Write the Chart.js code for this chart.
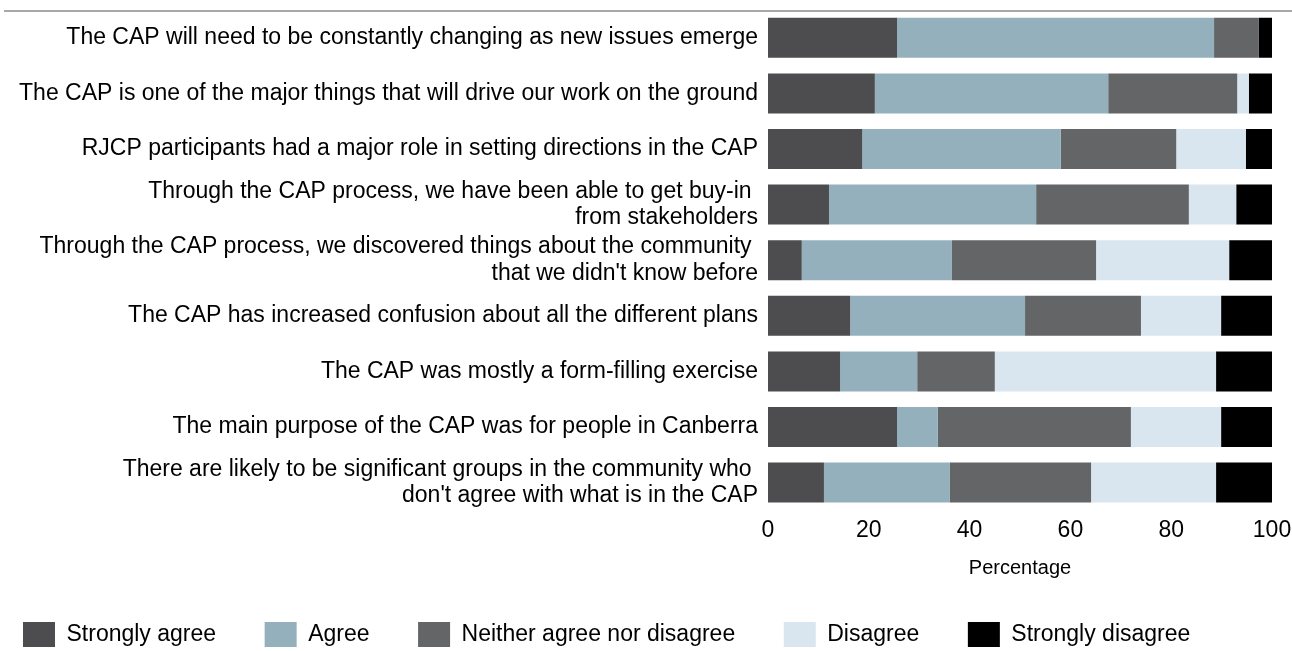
<!DOCTYPE html>
<html>
<head>
<meta charset="utf-8">
<script src="https://cdn.jsdelivr.net/npm/chart.js@4.4.0/dist/chart.umd.min.js"></script>
<style>
  body { margin: 0; background: #fff; }
  #caja { position: relative; width: 1292px; height: 651px; }
  #linea { position: absolute; top: 10px; left: 4px; right: 0; height: 2px; background: #a8a8a8; }
</style>
</head>
<body>
<div id="caja">
  <div id="linea"></div>
  <canvas id="grafico"></canvas>
</div>
<script>
/* preguntas (una por barra) */
const preguntas = [
    'The CAP will need to be constantly changing as new issues emerge',
    'The CAP is one of the major things that will drive our work on the ground',
    'RJCP participants had a major role in setting directions in the CAP',
    ['Through the CAP process, we have been able to get buy-in ', 'from stakeholders'],
    ['Through the CAP process, we discovered things about the community ', 'that we didn\'t know before'],
    'The CAP has increased confusion about all the different plans',
    'The CAP was mostly a form-filling exercise',
    'The main purpose of the CAP was for people in Canberra',
    ['There are likely to be significant groups in the community who ', 'don\'t agree with what is in the CAP']
]

const series = ['Strongly agree', 'Agree', 'Neither agree nor disagree', 'Disagree', 'Strongly disagree']

/* porcentajes de cada respuesta */
const muyDeAcuerdo = [25.6, 21.2, 18.7, 12.1, 6.7, 16.3, 14.3, 25.6, 11.1]
const deAcuerdo = [62.9, 46.3, 39.4, 41.1, 29.8, 34.7, 15.3, 8.1, 25.0]
const neutral = [8.9, 25.6, 22.9, 30.3, 28.6, 23.0, 15.4, 38.3, 28.0]
const enDesacuerdo = [0, 2.3, 13.8, 9.4, 26.4, 15.9, 43.9, 17.9, 24.8]
const muyEnDesacuerdo = [2.6, 4.6, 5.2, 7.1, 8.5, 10.1, 11.1, 10.1, 11.1]

const ticksX = [0, 20, 40, 60, 80, 100]

const colores = ['#4d4d4f', '#94b0bd', '#646567', '#d9e6ef', '#000000']

function graficoBarras(){

    const ctx = document.getElementById('grafico')
    const valores = [muyDeAcuerdo, deAcuerdo, neutral, enDesacuerdo, muyEnDesacuerdo]

    Chart.defaults.font.family = '"Liberation Sans", Arial, sans-serif'
    Chart.defaults.color = '#000'

    new Chart(ctx, {
        type: 'bar',
        data: {
            labels: preguntas,
            datasets: series.map((nombre, i) => ({
                label: nombre,
                data: valores[i],
                backgroundColor: colores[i],
                borderWidth: 0,
                barPercentage: 0.72,
                categoryPercentage: 1
            }))
        },
        options: {
            indexAxis: 'y',
            responsive: true,
            maintainAspectRatio: false,
            animation: false,
            layout: { padding: { top: 10, bottom: -6 } },
            scales: {
                x: {
                    stacked: true,
                    min: 0,
                    max: 100,
                    afterBuildTicks: (eje) => { eje.ticks = ticksX.map(v => ({ value: v })) },
                    grid: { display: false, drawTicks: false },
                    border: { display: false },
                    ticks: { font: { size: 23 }, padding: 6 },
                    title: {
                        display: true,
                        text: 'Percentage',
                        font: { size: 20 },
                        padding: { top: 6, bottom: 19 }
                    },
                    afterFit: (eje) => { eje.paddingLeft = 0; eje.paddingRight = 20 }
                },
                y: {
                    stacked: true,
                    grid: { display: false, drawTicks: false },
                    border: { display: false },
                    ticks: { font: { size: 23, lineHeight: 1.15 }, padding: 10, autoSkip: false },
                    afterFit: (eje) => { eje.width = 768; eje.paddingTop = 0; eje.paddingBottom = 0 }
                }
            },
            plugins: {
                tooltip: { enabled: false },
                legend: {
                    position: 'bottom',
                    align: 'start',
                    labels: {
                        boxWidth: 32,
                        boxHeight: 25,
                        padding: 23,
                        font: { size: 23 },
                        // espacio extra entre elementos de la leyenda
                        generateLabels: (chart) => Chart.defaults.plugins.legend.labels.generateLabels(chart)
                            .map(l => ({ ...l, text: l.text + '    ' }))
                    }
                }
            }
        }
    })
}

graficoBarras()
</script>
</body>
</html>
